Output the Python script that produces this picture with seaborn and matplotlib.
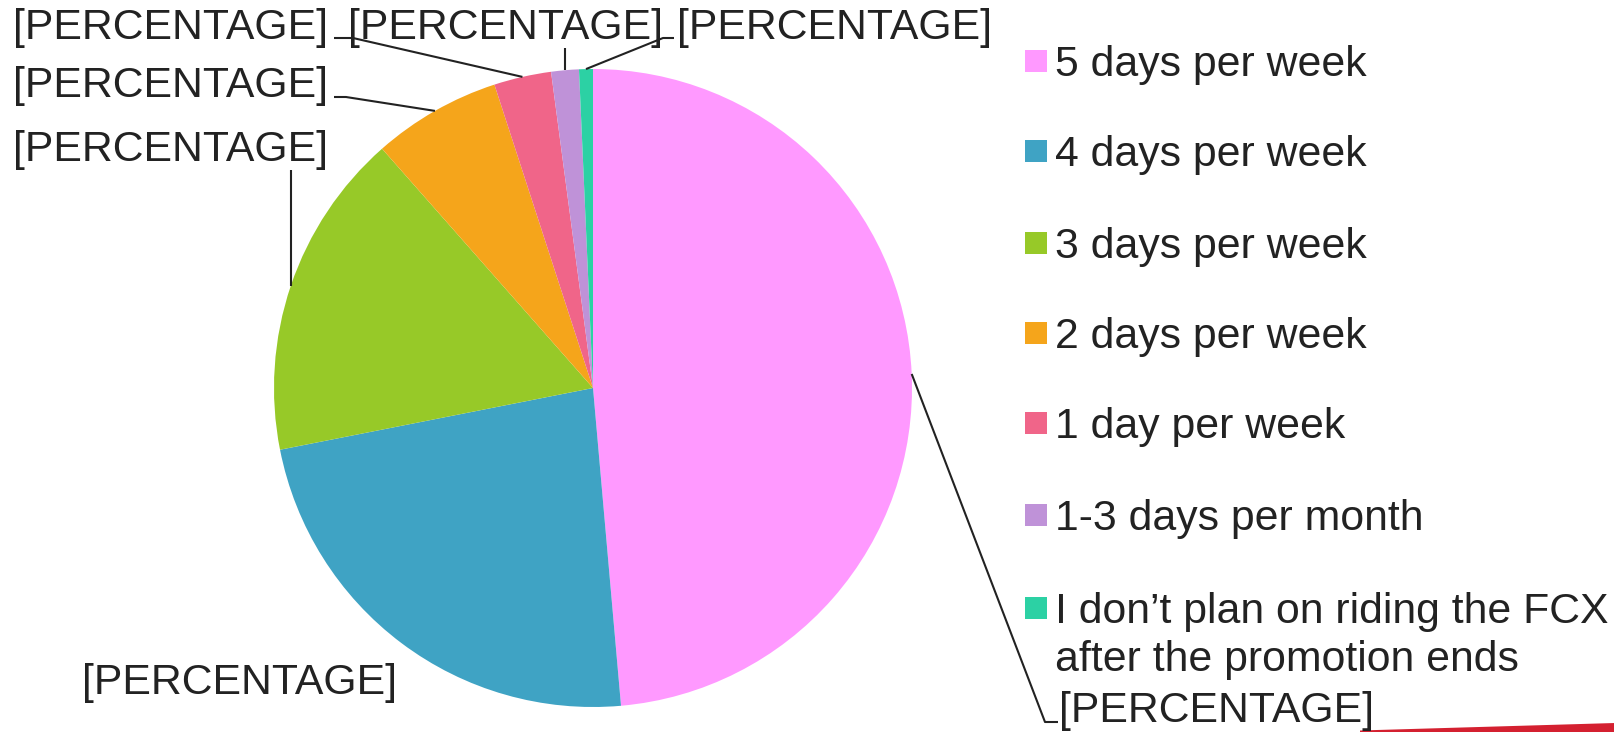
import matplotlib
matplotlib.use("Agg")
import matplotlib.pyplot as plt
import seaborn as sns
import numpy as np
from matplotlib.patches import Rectangle, Polygon

# ---- data ----
categories = [
    "5 days per week",
    "4 days per week",
    "3 days per week",
    "2 days per week",
    "1 day per week",
    "1-3 days per month",
    "I don\u2019t plan on riding the FCX\nafter the promotion ends",
]
shares = [48.6, 23.3, 16.6, 6.5, 2.9, 1.4, 0.7]
colors = ["#FF99FF", "#3FA3C4", "#97C928", "#F5A51B", "#F06589", "#BF92D8", "#2CD1A4"]
slice_labels = ["[PERCENTAGE]"] * len(categories)

sns.set_theme(style="white")
plt.rcParams["font.family"] = ["Liberation Sans", "DejaVu Sans"]
palette = sns.color_palette(colors)

W, H = 1615, 732
fig = plt.figure(figsize=(W / 100, H / 100), dpi=100)
fig.patch.set_facecolor("white")
ax = fig.add_axes([0, 0, 1, 1])

def Y(y):
    return H - y

TXT = "#222222"
FS = 30.8
FSPX = FS * 100 / 72

cx, cy, R = 593, Y(388), 319
wedges, _ = ax.pie(shares, colors=palette, startangle=90, counterclock=False,
                   center=(cx, cy), radius=R, wedgeprops=dict(linewidth=0))
ax.set_xlim(0, W)
ax.set_ylim(0, H)
ax.set_aspect("auto")
ax.axis("off")

# label layout: (text x, text y, ha, leader elbow points)
layout = [
    (1059, 711, "left", [(1045, 722), (1058, 722)]),
    (240, 683, "center", []),
    (171, 150, "center", ["vert", 170]),
    (171, 86, "center", [(346, 97), (334, 97)]),
    (171, 28, "center", [(353, 38), (334, 38)]),
    (506, 28, "center", ["vert", 48]),
    (835, 28, "center", [(663, 38), (674, 38)]),
]

for w, lab, (tx, ty, ha, pts) in zip(wedges, slice_labels, layout):
    mid = np.deg2rad((w.theta1 + w.theta2) / 2)
    ex, ey = cx + R * np.cos(mid), cy + R * np.sin(mid)
    if pts:
        if pts[0] == "vert":
            xs = [ex, ex]
            ys = [ey, Y(pts[1])]
        else:
            xs = [ex] + [p[0] for p in pts]
            ys = [ey] + [Y(p[1]) for p in pts]
        ax.plot(xs, ys, color=TXT, lw=1.5, solid_capstyle="butt")
    ax.text(tx, Y(ty), lab, ha=ha, va="center", fontsize=FS, color=TXT)

# legend
row_y = [61, 151, 243, 333, 423, 515, 608]
line_pitch = 48
for cat, col, ry in zip(categories, palette, row_y):
    ax.add_patch(Rectangle((1025, Y(ry) - 11), 22, 22, color=col, lw=0))
    for k, line in enumerate(cat.split("\n")):
        ax.text(1055, Y(ry + k * line_pitch) - 0.36 * FSPX, line, ha="left",
                va="baseline", fontsize=FS, color=TXT)

# decorative red swoosh bottom right
ax.add_patch(Polygon([(1360, 0), (1360, 1.5), (1615, 9), (1615, 0)],
                     closed=True, color="#D42030", lw=0))

fig.savefig("out.png", dpi=100, facecolor="white")
